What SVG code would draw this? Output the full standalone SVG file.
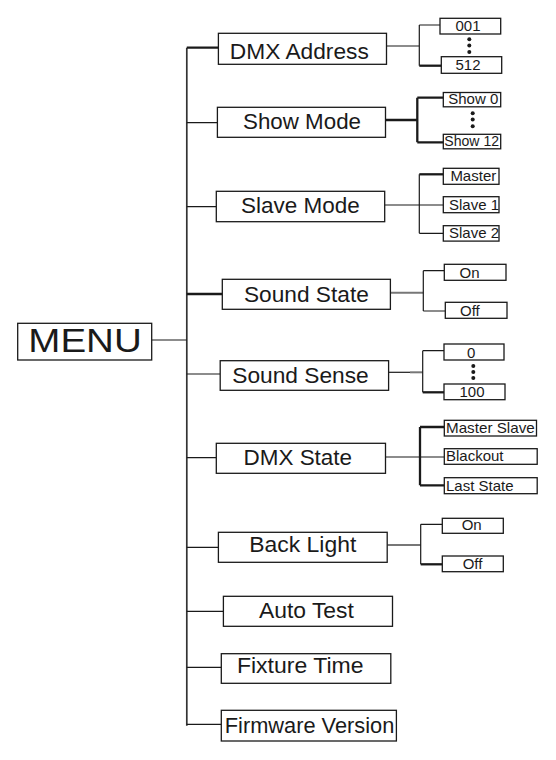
<svg xmlns="http://www.w3.org/2000/svg" width="556" height="760" viewBox="0 0 556 760">
<style>
.box{fill:#fff;stroke:#1a1a1a;stroke-width:1.3}
.big{font-family:"Liberation Sans",Arial,Helvetica,sans-serif;font-size:21.5px;fill:#1a1a1a;text-anchor:middle}
.sm{font-family:"Liberation Sans",Arial,Helvetica,sans-serif;font-size:15px;fill:#1a1a1a;text-anchor:middle}
.sl{font-family:"Liberation Sans",Arial,Helvetica,sans-serif;font-size:15px;fill:#1a1a1a}
.ln{fill:none;stroke:#1a1a1a;stroke-width:1.2}
.tk{fill:none;stroke:#1a1a1a;stroke-width:2.3}
.gr{fill:none;stroke:#777;stroke-width:2}
.tr{fill:none;stroke:#333;stroke-width:1.7}
.dot{fill:#1a1a1a}
</style>
<g id="connectors">
<path class="tr" d="M186.8 47.7V725.7"/>
<path class="tk" d="M186.8 47.7H218.4"/>
<path class="ln" d="M186.8 122.7H217.4M186.8 206.7H216.3"/>
<path class="tk" d="M186.8 294H222.3"/>
<path class="ln" d="M151.7 340H186.8M186.8 374H220.2M186.8 457.7H216.3M186.8 547.3H218.4M186.8 611.3H223.4M186.8 667.3H221.3M186.8 724.3H221.3"/>
<path class="ln" d="M386.5 46H419.3M419.3 25V65.7M419.3 25H440"/>
<path class="tk" d="M419.3 65.7H441.3"/>
<path class="tk" d="M385.5 120H417.3M417.3 97.7V142.3M417.3 97.7H443.3M417.3 142.3H443.3"/>
<path class="ln" d="M384.7 205H443.3M419.3 174.3V233.3M419.3 233.3H443.3"/>
<path class="tk" d="M419.3 174.3H443.3"/>
<path class="gr" d="M390.4 292.7H423.3"/>
<path class="ln" d="M423.3 270.7V311M423.3 270.7H444.3M423.3 311H445.3"/>
<path class="ln" d="M388.6 372.3H410"/>
<path class="gr" d="M410 372.3H422.7"/>
<path class="ln" d="M422.7 350.7V392.3M422.7 350.7H444"/>
<path class="tk" d="M422.7 392.3H444"/>
<path class="ln" d="M385.5 457H444.3"/>
<path class="tk" d="M420 427V485.3M420 427H444.3M420 485.3H444.3"/>
<path class="gr" d="M387.2 545H420.7"/>
<path class="ln" d="M420.7 524.3V564.3M420.7 524.3H442.3"/>
<path class="tk" d="M420.7 564.3H442.3"/>
<circle class="dot" cx="469.3" cy="39.3" r="2"/><circle class="dot" cx="469.3" cy="45.6" r="2"/><circle class="dot" cx="469.3" cy="52" r="2"/>
<circle class="dot" cx="472.7" cy="113.3" r="2"/><circle class="dot" cx="472.7" cy="119.6" r="2"/><circle class="dot" cx="472.7" cy="126.2" r="2"/>
<circle class="dot" cx="473.3" cy="366" r="2"/><circle class="dot" cx="473.3" cy="372" r="2"/><circle class="dot" cx="473.3" cy="378" r="2"/>
</g>
<g id="menu"><rect class="box" x="17.7" y="323.3" width="134" height="36.7"/><text x="85" y="351.7" style="font-family:'Liberation Sans',Arial,sans-serif;font-size:34px;fill:#1a1a1a;text-anchor:middle" textLength="113.4" lengthAdjust="spacingAndGlyphs">MENU</text></g>
<g id="dmx-address"><rect class="box" x="218.4" y="33.3" width="168.1" height="31"/><text class="big" x="299.3" y="59.3" textLength="139" lengthAdjust="spacingAndGlyphs">DMX Address</text></g>
<g id="show-mode"><rect class="box" x="217.4" y="107.3" width="168.1" height="30"/><text class="big" x="302" y="129.3" textLength="118" lengthAdjust="spacingAndGlyphs">Show Mode</text></g>
<g id="slave-mode"><rect class="box" x="216.3" y="191.3" width="168.4" height="30.4"/><text class="big" x="300.5" y="212.7" textLength="118.8" lengthAdjust="spacingAndGlyphs">Slave Mode</text></g>
<g id="sound-state"><rect class="box" x="222.3" y="279.3" width="168.1" height="30"/><text class="big" x="306.4" y="301.7" textLength="124.8" lengthAdjust="spacingAndGlyphs">Sound State</text></g>
<g id="sound-sense"><rect class="box" x="220.2" y="360.7" width="168.4" height="29.6"/><text class="big" x="300.5" y="383.3" textLength="136.5" lengthAdjust="spacingAndGlyphs">Sound Sense</text></g>
<g id="dmx-state"><rect class="box" x="216.3" y="443.3" width="169.2" height="30"/><text class="big" x="297.8" y="465" textLength="108.5" lengthAdjust="spacingAndGlyphs">DMX State</text></g>
<g id="back-light"><rect class="box" x="218.4" y="532.3" width="168.8" height="30"/><text class="big" x="302.8" y="551.7" textLength="107" lengthAdjust="spacingAndGlyphs">Back Light</text></g>
<g id="auto-test"><rect class="box" x="223.4" y="596.3" width="169.1" height="30"/><text class="big" x="306.4" y="618.3" textLength="95" lengthAdjust="spacingAndGlyphs">Auto Test</text></g>
<g id="fixture-time"><rect class="box" x="221.3" y="653.7" width="169.5" height="29.6"/><text class="big" x="300.2" y="672.7" textLength="126.6" lengthAdjust="spacingAndGlyphs">Fixture Time</text></g>
<g id="firmware-version"><rect class="box" x="221.3" y="710.3" width="175.1" height="30.7"/><text class="big" x="309.5" y="733.3" textLength="169.5" lengthAdjust="spacingAndGlyphs">Firmware Version</text></g>
<g id="addr-001"><rect class="box" x="440" y="18.3" width="60.7" height="15.7"/><text class="sm" x="468" y="31.3">001</text></g>
<g id="addr-512"><rect class="box" x="441.3" y="56.7" width="60.4" height="16.6"/><text class="sm" x="468" y="70.3">512</text></g>
<g id="show-0"><rect class="box" x="443.3" y="92.5" width="57.4" height="14.3"/><text class="sm" x="473.3" y="104.3">Show 0</text></g>
<g id="show-12"><rect class="box" x="443.3" y="134.3" width="57.4" height="14.5"/><text class="sm" x="471.7" y="146.3" textLength="54.7" lengthAdjust="spacingAndGlyphs">Show 12</text></g>
<g id="master"><rect class="box" x="443.3" y="168.3" width="55.7" height="16"/><text class="sm" x="473.3" y="180.8">Master</text></g>
<g id="slave-1"><rect class="box" x="443.3" y="196.7" width="55.7" height="16"/><text class="sm" x="474" y="209.5">Slave 1</text></g>
<g id="slave-2"><rect class="box" x="443.3" y="225.7" width="55.7" height="15.4"/><text class="sm" x="474" y="238">Slave 2</text></g>
<g id="ss-on"><rect class="box" x="444.3" y="264.3" width="61.7" height="16"/><text class="sm" x="469.6" y="277.9">On</text></g>
<g id="ss-off"><rect class="box" x="445.3" y="302.3" width="61.7" height="16"/><text class="sl" x="460" y="315.9">Off</text></g>
<g id="sense-0"><rect class="box" x="444" y="344" width="60" height="16"/><text class="sm" x="471.2" y="357.5">0</text></g>
<g id="sense-100"><rect class="box" x="444" y="384" width="61" height="15.7"/><text class="sm" x="472" y="397.3">100</text></g>
<g id="master-slave"><rect class="box" x="444.3" y="420.3" width="92.2" height="15.7"/><text class="sl" x="446" y="433" textLength="88.7" lengthAdjust="spacingAndGlyphs">Master Slave</text></g>
<g id="blackout"><rect class="box" x="444.3" y="448.7" width="92.9" height="15.6"/><text class="sl" x="446" y="460.6">Blackout</text></g>
<g id="last-state"><rect class="box" x="444.3" y="477.7" width="92.9" height="16"/><text class="sl" x="446" y="491.3">Last State</text></g>
<g id="bl-on"><rect class="box" x="442.3" y="518.3" width="61" height="15"/><text class="sm" x="471.7" y="530.2">On</text></g>
<g id="bl-off"><rect class="box" x="442.3" y="556" width="61" height="15.7"/><text class="sl" x="462.7" y="568.5">Off</text></g>
</svg>
